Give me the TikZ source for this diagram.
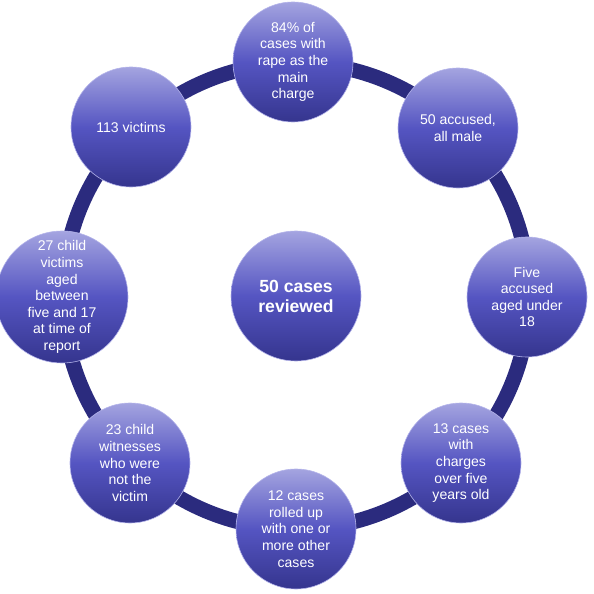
\documentclass[tikz,border=0pt]{standalone}
\usepackage{fontspec}
\setmainfont{Liberation Sans}
\definecolor{ringblue}{HTML}{2B2B7E}
\definecolor{toplav}{HTML}{A4A4E0}
\definecolor{midblue}{HTML}{5555C2}
\definecolor{lowblue}{HTML}{35358E}
\definecolor{rimlav}{HTML}{B4B4EA}

\tikzstyle{every node}=[align=center, text=white, inner sep=0pt]
\tikzstyle{bubble}=[circle, minimum size=3.6cm, draw=rimlav, line width=0.5pt, top color=toplav, bottom color=lowblue, middle color=midblue, font={\fontsize{12}{14.2}\selectfont}]
\tikzstyle{hub}=[bubble, minimum size=3.9cm, font={\fontsize{15}{17}\selectfont\bfseries}]
\tikzstyle{ring}=[draw=ringblue, line width=0.45cm]

\begin{document}
\begin{tikzpicture}[x=0.03cm, y=-0.03cm]
    \useasboundingbox (0,0) rectangle (593,594);
    \coordinate (middle) at (296,296);
    \draw [ring] (middle) circle (233);

    \node [hub] (reviewed) at (middle) {50 cases\\reviewed};
    \node [bubble] (rape) at (293,62) {84\% of\\cases with\\rape as the\\main\\charge};
    \node [bubble] (accused) at (458,128) {50 accused,\\all male};
    \node [bubble] (under) at (527,297) {Five\\accused\\aged under\\18};
    \node [bubble] (old) at (461,463) {13 cases\\with\\charges\\over five\\years old};
    \node [bubble] (rolled) at (296,529) {12 cases\\rolled up\\with one or\\more other\\cases};
    \node [bubble] (witnesses) at (130,463) {23 child\\witnesses\\who were\\not the\\victim};
    \node [bubble] (child) at (62,297) {27 child\\victims\\aged\\between\\five and 17\\at time of\\report};
    \node [bubble] (victims) at (131,127) {113 victims};
\end{tikzpicture}
\end{document}
